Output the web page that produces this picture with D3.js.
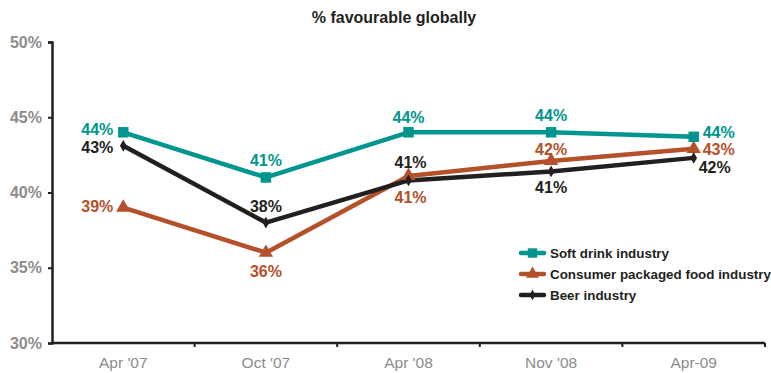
<!DOCTYPE html>
<html>
<head>
<meta charset="utf-8">
<script src="https://cdn.jsdelivr.net/npm/d3@7/dist/d3.min.js"></script>
<style>
  html, body { margin: 0; padding: 0; background: #fff; }
  svg { display: block; font-family: "Liberation Sans", Arial, sans-serif; }
</style>
</head>
<body>
<svg id="chart" width="771" height="373"></svg>
<script>
// Survey waves
const periods = ["Apr '07", "Oct '07", "Apr '08", "Nov '08", "Apr-09"];

// Share of respondents favourable, by industry (%)
const softDrink = [44.0, 41.0, 44.0, 44.0, 43.7];
const packagedFood = [39.0, 36.0, 41.1, 42.1, 42.9];
const beer = [43.1, 38.0, 40.8, 41.4, 42.3];

const seriesNames = ["Soft drink industry", "Consumer packaged food industry", "Beer industry"];
const yTicks = [30, 35, 40, 45, 50];

// Where each value label sits relative to its point
const labelPlacement = [
  [["left", -10, -3], ["above", 0, -17], ["above", 0, -15], ["above", 0, -17], ["right", 9, -4]],
  [["left", -10, -1], ["below", 0, 19], ["below", 2, 22], ["above", 0, -11], ["right", 9, 1]],
  [["left", -10, 2], ["above", 0, -16], ["above", 2, -18], ["below", 0, 16], ["right", 5, 10]]
];

const colors = ["#00958f", "#b4502a", "#231f20"];
const series = [softDrink, packagedFood, beer];

const svg = d3.select("#chart");
const margin = { left: 52, right: 6, top: 42, bottom: 30 };
const W = 771, H = 373;

const x = d3.scaleBand().domain(periods).range([margin.left, W - margin.right]);
const y = d3.scaleLinear().domain([30, 50]).range([H - margin.bottom, margin.top]);
const cx = d => x(d) + x.bandwidth() / 2;

// Title
svg.append("text")
  .attr("x", 394).attr("y", 23)
  .attr("text-anchor", "middle")
  .style("font-size", "16px").style("font-weight", "bold").style("fill", "#231f20")
  .text("% favourable globally");

// Y axis
const yAxis = svg.append("g")
  .attr("transform", `translate(${margin.left},0)`)
  .call(d3.axisLeft(y).tickValues(yTicks).tickFormat(d => d + "%").tickSize(4).tickPadding(6));
yAxis.select(".domain").attr("stroke", "#231f20").attr("stroke-width", 2.5);
yAxis.selectAll(".tick line").attr("stroke", "#231f20").attr("stroke-width", 2);
yAxis.selectAll(".tick text")
  .style("font-size", "16px").style("font-weight", "bold").style("fill", "#8c8c8c")
  .style("font-family", "'Liberation Sans', Arial, sans-serif");

// X axis with ticks at band boundaries
const xAxisG = svg.append("g").attr("transform", `translate(0,${y(30)})`);
xAxisG.append("line")
  .attr("x1", margin.left).attr("x2", W - margin.right)
  .attr("stroke", "#231f20").attr("stroke-width", 2.5);
xAxisG.selectAll("line.bound")
  .data(periods.map((p, i) => i + 1))
  .join("line").attr("class", "bound")
  .attr("x1", i => x.range()[0] + i * x.step())
  .attr("x2", i => x.range()[0] + i * x.step())
  .attr("y1", 0).attr("y2", 4)
  .attr("stroke", "#231f20").attr("stroke-width", 2);
xAxisG.selectAll("text")
  .data(periods).join("text")
  .attr("x", d => cx(d)).attr("y", 25)
  .attr("text-anchor", "middle")
  .style("font-size", "15.5px").style("fill", "#8c8c8c")
  .text(d => d);

// Series lines
const line = d3.line().x((d, i) => cx(periods[i])).y(d => y(d));
series.forEach((vals, s) => {
  svg.append("path")
    .datum(vals)
    .attr("d", line)
    .attr("fill", "none")
    .attr("stroke", colors[s])
    .attr("stroke-width", 4.5)
    .attr("stroke-linejoin", "round");
});

// Markers
const symbols = [d3.symbolSquare, d3.symbolTriangle, d3.symbolDiamond];
const symSizes = [110, 90, 40];
function drawMarker(g, s, px, py, scale = 1) {
  g.append("path")
    .attr("d", d3.symbol().type(symbols[s]).size(symSizes[s] * scale)())
    .attr("transform", `translate(${px},${py})`)
    .attr("fill", colors[s]);
}
series.forEach((vals, s) => {
  vals.forEach((v, i) => drawMarker(svg, s, cx(periods[i]), y(v)));
});

// Value labels
const fmt = v => Math.round(v) + "%";
series.forEach((vals, s) => {
  vals.forEach((v, i) => {
    const [pos, dx, dy] = labelPlacement[s][i];
    const anchor = pos === "left" ? "end" : pos === "right" ? "start" : "middle";
    svg.append("text")
      .attr("x", cx(periods[i]) + dx)
      .attr("y", y(v) + dy)
      .attr("text-anchor", anchor)
      .attr("dominant-baseline", "central")
      .style("font-size", "16px").style("font-weight", "bold")
      .style("fill", colors[s])
      .text(fmt(v));
  });
});

// Legend
const legend = svg.append("g").attr("transform", "translate(521,253)");
seriesNames.forEach((name, s) => {
  const g = legend.append("g").attr("transform", `translate(0,${s * 21})`);
  g.append("line").attr("x1", 0).attr("x2", 23)
    .attr("stroke", colors[s]).attr("stroke-width", 4.5).attr("stroke-linecap", "round");
  drawMarker(g, s, 11.5, 0, 0.8);
  g.append("text")
    .attr("x", 29).attr("y", 0)
    .attr("dominant-baseline", "central")
    .style("font-size", "13.4px").style("font-weight", "bold").style("fill", "#231f20")
    .text(name);
});
</script>
</body>
</html>
